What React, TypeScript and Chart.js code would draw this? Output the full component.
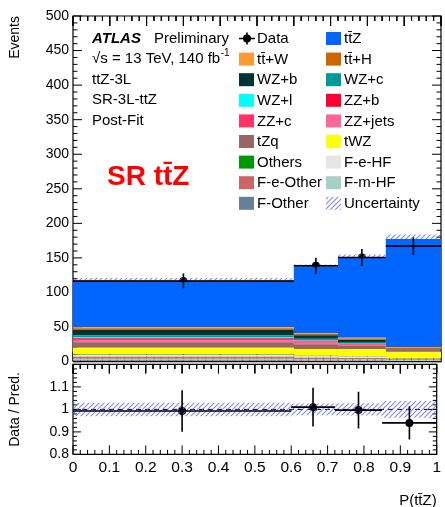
import React, { useEffect, useRef } from 'react';
import { Chart, registerables } from 'chart.js';
Chart.register(...registerables);

const FONT = '"Liberation Sans", Arial, Helvetica, sans-serif';
Chart.defaults.font.family = FONT;
Chart.defaults.color = '#000';

// ---------- data ----------
const binEdges = [0, 0.6, 0.72, 0.85, 1.0];
const binCenters = [0.3, 0.66, 0.785, 0.925];

// sample yields per bin (legend order)
const ttZ = [67.7, 95.6, 116.4, 156.4];
const ttW = [1.5, 1.2, 1.0, 1.5];
const ttH = [2.7, 2.2, 2.0, 2.6];
const WZb = [7.5, 5.0, 4.5, 1.0];
const WZc = [3.0, 2.2, 1.2, 0.3];
const WZl = [1.0, 0.8, 0.5, 0.1];
const ZZb = [1.2, 1.0, 0.6, 0.1];
const ZZc = [2.0, 1.6, 0.9, 0.2];
const ZZjets = [3.0, 2.2, 1.2, 0.3];
const tZq = [8.0, 7.0, 5.0, 1.2];
const tWZ = [9.6, 9.6, 9.7, 9.0];
const Others = [0.8, 0.8, 0.8, 0.5];
const FeHF = [2.5, 2.2, 2.0, 1.0];
const FeOther = [3.0, 2.4, 2.2, 1.3];
const FmHF = [2.0, 1.6, 1.5, 1.0];
const FOther = [2.0, 1.6, 1.5, 1.0];

const sampleLabels = ['tt\u0304Z', 'tt\u0304+W', 'tt\u0304+H', 'WZ+b', 'WZ+c', 'WZ+l', 'ZZ+b', 'ZZ+c', 'ZZ+jets', 'tZq', 'tWZ', 'Others', 'F-e-HF', 'F-e-Other', 'F-m-HF', 'F-Other'];
const sampleYields = [ttZ, ttW, ttH, WZb, WZc, WZl, ZZb, ZZc, ZZjets, tZq, tWZ, Others, FeHF, FeOther, FmHF, FOther];
const sampleColors = ['#0066ff', '#ff9933', '#cc6600', '#003333', '#009999', '#00ffff', '#ff0033', '#ff3366', '#ff6699', '#996666', '#ffff00', '#009900', '#e6e6e6', '#cc6666', '#a8cfc4', '#668099'];

const dataValues = [116.5, 138.5, 150.5, 167.0];
const dataErrors = [10.8, 11.8, 12.3, 12.9];
const predUnc = [3.5, 3.5, 4.0, 6.5];

const ratioValues = [0.993, 1.01, 0.997, 0.94];
const ratioErrors = [0.092, 0.086, 0.082, 0.074];
const ratioUnc = [0.030, 0.026, 0.027, 0.037];

const infoLines = ['ttZ-3L', 'SR-3L-ttZ', 'Post-Fit'];
const regionLabel = 'SR tt\u0304Z';
const xTitle = 'P(tt\u0304Z)';

// ---------- layout / style constants ----------
const W = 445;
const MAIN_H = 374;
const RATIO_H = 153;
const AREA_LEFT = 73;
const MAIN_BOTTOM = 364;
const RATIO_AREA_H = 90;

function stepPoints(vals: number[]) {
  const pts = vals.map((v, i) => ({ x: binEdges[i], y: v }));
  pts.push({ x: binEdges[binEdges.length - 1], y: vals[vals.length - 1] });
  return pts;
}

// frame outline, in axis units
function framePoints(yMin: number, yMax: number) {
  return [{ x: 0, y: yMin }, { x: 1, y: yMin }, { x: 1, y: yMax }, { x: 0, y: yMax }, { x: 0, y: yMin }];
}

// inward tick marks, in axis units, separated by gaps
function tickPoints(yMin: number, yMax: number, yMinorStep: number, every: number, xMajLen: number, xMinLen: number, yMajLen: number, yMinLen: number) {
  const pts: { x: number; y: number | null }[] = [];
  for (let k = 0; k <= 50; k++) {
    const v = k / 50;
    const len = k % 5 === 0 ? xMajLen : xMinLen;
    pts.push({ x: v, y: yMin }, { x: v, y: yMin + len }, { x: v, y: null });
    pts.push({ x: v, y: yMax }, { x: v, y: yMax - len }, { x: v, y: null });
  }
  const nY = Math.round((yMax - yMin) / yMinorStep);
  for (let k = 0; k <= nY; k++) {
    const v = yMin + ((yMax - yMin) * k) / nY;
    const len = k % every === 0 ? yMajLen : yMinLen;
    pts.push({ x: 0, y: v }, { x: len, y: v }, { x: len, y: null });
    pts.push({ x: 1, y: v }, { x: 1 - len, y: v }, { x: 1 - len, y: null });
  }
  return pts;
}

function makeHatch(): CanvasPattern | string {
  const c = document.createElement('canvas');
  c.width = 5; c.height = 5;
  const g = c.getContext('2d');
  if (!g) return 'rgba(100,100,230,0.5)';
  g.strokeStyle = 'rgba(95,95,225,0.75)';
  g.lineWidth = 1.1;
  g.beginPath();
  g.moveTo(0, 5); g.lineTo(5, 0);
  g.moveTo(-1, 1); g.lineTo(1, -1);
  g.moveTo(4, 6); g.lineTo(6, 4);
  g.stroke();
  return g.createPattern(c, 'repeat') || 'rgba(100,100,230,0.5)';
}

function drawDataBars(chart: any, vals: number[], errs: number[]) {
  const ctx = chart.ctx;
  const xs = chart.scales.x, ys = chart.scales.y;
  ctx.save();
  ctx.setLineDash([]);
  ctx.strokeStyle = '#000';
  ctx.lineWidth = 1.6;
  ctx.beginPath();
  vals.forEach((v, b) => {
    const x0 = xs.getPixelForValue(binEdges[b]);
    const x1 = xs.getPixelForValue(binEdges[b + 1]);
    const xc = xs.getPixelForValue(binCenters[b]);
    const y = ys.getPixelForValue(v);
    ctx.moveTo(x0, y); ctx.lineTo(x1, y);
    ctx.moveTo(xc, ys.getPixelForValue(v - errs[b]));
    ctx.lineTo(xc, ys.getPixelForValue(v + errs[b]));
  });
  ctx.stroke();
  ctx.restore();
}

function drawLegend(chart: any, hatch: CanvasPattern | string) {
  const ctx = chart.ctx;
  ctx.save();
  ctx.fillStyle = '#000';
  ctx.textBaseline = 'middle';
  ctx.textAlign = 'left';
  const rowY = (i: number) => 38.5 + 20.6 * i;
  ctx.font = `bold italic 15px ${FONT}`;
  ctx.fillText('ATLAS', 92, rowY(0));
  ctx.font = `15px ${FONT}`;
  ctx.fillText('Preliminary', 154, rowY(0));
  const s1 = '\u221As = 13 TeV, 140 fb';
  ctx.fillText(s1, 92, rowY(1));
  const w1 = ctx.measureText(s1).width;
  ctx.font = `10px ${FONT}`;
  ctx.fillText('-1', 92 + w1 + 0.5, rowY(1) - 6);
  ctx.font = `15px ${FONT}`;
  infoLines.forEach((t, i) => ctx.fillText(t, 92, rowY(2 + i)));
  ctx.font = `bold 28px ${FONT}`;
  ctx.fillStyle = '#ff0000';
  ctx.fillText(regionLabel, 107, 177);
  ctx.font = `15px ${FONT}`;
  const entries: { label: string; kind: string; color?: any }[] = [{ label: 'Data', kind: 'data' }];
  sampleLabels.forEach((lb, i) => entries.push({ label: lb, kind: 'box', color: sampleColors[i] }));
  entries.push({ label: 'Uncertainty', kind: 'hatch' });
  entries.forEach((e, i) => {
    const col = i % 2, row = Math.floor(i / 2);
    const bx = col === 0 ? 239 : 326;
    const tx = col === 0 ? 257 : 344;
    const y = rowY(row);
    if (e.kind === 'data') {
      ctx.strokeStyle = '#000';
      ctx.lineWidth = 1.6;
      ctx.beginPath();
      ctx.moveTo(bx, y); ctx.lineTo(bx + 16, y);
      ctx.moveTo(bx + 8, y - 6); ctx.lineTo(bx + 8, y + 6);
      ctx.stroke();
      ctx.fillStyle = '#000';
      ctx.beginPath();
      ctx.arc(bx + 8, y, 4, 0, Math.PI * 2);
      ctx.fill();
    } else if (e.kind === 'box') {
      ctx.fillStyle = e.color;
      ctx.fillRect(bx, y - 6.5, 15, 13);
    } else {
      ctx.fillStyle = hatch;
      ctx.fillRect(bx, y - 6.5, 15, 13);
    }
    ctx.fillStyle = '#000';
    ctx.fillText(e.label, tx, y + 0.5);
  });
  ctx.restore();
}

const tickFmt = (v: any) => String(Math.round(Number(v) * 10) / 10);

const lineSet = (label: string, data: any[], width: number) => ({
  label, data, borderColor: '#000', borderWidth: width, pointRadius: 0, fill: false, spanGaps: false, clip: false, tension: 0,
});

export default function App() {
  const mainRef = useRef<HTMLCanvasElement>(null);
  const ratioRef = useRef<HTMLCanvasElement>(null);
  const ratioWrapRef = useRef<HTMLDivElement>(null);

  useEffect(() => {
    document.documentElement.style.overflow = 'hidden';
    document.body.style.overflow = 'hidden';
    const hatch = makeHatch();

    const order = sampleYields.map((_, i) => sampleYields.length - 1 - i);
    const cum: number[][] = [];
    let run = [0, 0, 0, 0];
    order.forEach((si) => {
      run = run.map((r, b) => r + sampleYields[si][b]);
      cum.push(run.slice());
    });
    const total = run;

    const stackSets = order.map((si, k) => ({
      label: sampleLabels[si],
      data: stepPoints(cum[k]),
      stepped: true,
      fill: k === 0 ? 'origin' : '-1',
      backgroundColor: sampleColors[si],
      borderColor: 'rgba(0,0,0,0)',
      borderWidth: 0,
      pointRadius: 0,
    }));

    const mainDecor = {
      id: 'mainDecor',
      afterDraw(chart: any) {
        drawDataBars(chart, dataValues, dataErrors);
        drawLegend(chart, hatch);
      },
    };
    const ratioDecor = {
      id: 'ratioDecor',
      afterDraw(chart: any) {
        drawDataBars(chart, ratioValues, ratioErrors);
      },
    };

    const main = new Chart(mainRef.current as HTMLCanvasElement, {
      type: 'line',
      data: {
        datasets: [
          ...stackSets,
          { label: 'unc-lo', data: stepPoints(total.map((t, b) => t - predUnc[b])), stepped: true, fill: false, borderColor: 'rgba(0,0,0,0)', borderWidth: 0, pointRadius: 0 },
          { label: 'unc-hi', data: stepPoints(total.map((t, b) => t + predUnc[b])), stepped: true, fill: '-1', backgroundColor: hatch, borderColor: 'rgba(0,0,0,0)', borderWidth: 0, pointRadius: 0 },
          { label: 'Data', data: dataValues.map((v, b) => ({ x: binCenters[b], y: v })), showLine: false, pointRadius: 4, pointBackgroundColor: '#000', pointBorderWidth: 0 },
          lineSet('ticks', tickPoints(0, 500, 10, 5, 14.4, 7.2, 0.0245, 0.0122), 1),
          lineSet('frame', framePoints(0, 500), 1.2),
        ] as any,
      },
      options: {
        responsive: false,
        maintainAspectRatio: false,
        animation: false,
        events: [],
        layout: { padding: { top: 16, right: 4, left: 0, bottom: 10 } },
        plugins: { legend: { display: false }, tooltip: { enabled: false } },
        scales: {
          x: { type: 'linear', min: 0, max: 1, display: false },
          y: {
            min: 0, max: 500,
            ticks: { stepSize: 50, font: { size: 14 }, color: '#000', padding: 4 },
            grid: { display: false, drawTicks: false },
            border: { display: false },
            title: { display: true, text: 'Events', align: 'end', font: { size: 14 }, color: '#000', padding: { top: 7, bottom: 0 } },
            afterFit: (s: any) => { s.width = AREA_LEFT; },
          },
        },
      } as any,
      plugins: [mainDecor],
    });

    const ratio = new Chart(ratioRef.current as HTMLCanvasElement, {
      type: 'line',
      data: {
        datasets: [
          { label: 'r-lo', data: stepPoints(ratioUnc.map((u) => 1 - u)), stepped: true, fill: false, borderColor: 'rgba(0,0,0,0)', borderWidth: 0, pointRadius: 0 },
          { label: 'r-hi', data: stepPoints(ratioUnc.map((u) => 1 + u)), stepped: true, fill: '-1', backgroundColor: hatch, borderColor: 'rgba(0,0,0,0)', borderWidth: 0, pointRadius: 0 },
          { label: 'one', data: [{ x: 0, y: 1 }, { x: 1, y: 1 }], borderColor: '#000', borderWidth: 1, borderDash: [5, 4], pointRadius: 0, fill: false },
          { label: 'ratio', data: ratioValues.map((v, b) => ({ x: binCenters[b], y: v })), showLine: false, pointRadius: 4, pointBackgroundColor: '#000', pointBorderWidth: 0 },
          lineSet('ticks', tickPoints(0.8, 1.2, 0.02, 5, 0.04, 0.02, 0.0217, 0.0109), 1),
          lineSet('frame', framePoints(0.8, 1.2), 1.2),
        ] as any,
      },
      options: {
        responsive: false,
        maintainAspectRatio: false,
        animation: false,
        events: [],
        layout: { padding: { top: 0, right: 4, left: 0, bottom: 0 } },
        plugins: { legend: { display: false }, tooltip: { enabled: false } },
        scales: {
          x: {
            type: 'linear', min: 0, max: 1,
            ticks: { stepSize: 0.1, font: { size: 15.5 }, color: '#000', padding: 4, callback: tickFmt, maxRotation: 0, autoSkip: false },
            grid: { display: false, drawTicks: false },
            border: { display: false },
            title: { display: true, text: xTitle, align: 'end', font: { size: 15 }, color: '#000', padding: { top: 11, bottom: 2 } },
          },
          y: {
            min: 0.8, max: 1.2,
            ticks: { stepSize: 0.1, font: { size: 14 }, color: '#000', padding: 4, callback: (v: any) => (Math.abs(Number(v) - 1.2) < 1e-6 ? '' : tickFmt(v)) },
            grid: { display: false, drawTicks: false },
            border: { display: false },
            title: { display: true, text: 'Data / Pred.', align: 'center', font: { size: 14 }, color: '#000', padding: { top: 7, bottom: 0 } },
            afterFit: (s: any) => { s.width = AREA_LEFT; },
          },
        },
      } as any,
      plugins: [ratioDecor],
    });

    const ca = ratio.chartArea;
    const dh = RATIO_AREA_H - (ca.bottom - ca.top);
    if (Math.abs(dh) > 0.25) ratio.resize(W, RATIO_H + dh);
    if (ratioWrapRef.current) ratioWrapRef.current.style.top = `${MAIN_BOTTOM - ratio.chartArea.top}px`;

    return () => {
      main.destroy();
      ratio.destroy();
    };
  }, []);

  return (
    <div>
      <div style={{ position: 'absolute', left: 0, top: 0 }}>
        <canvas ref={mainRef} width={W} height={MAIN_H} style={{ display: 'block', width: W, height: MAIN_H }} />
      </div>
      <div ref={ratioWrapRef} style={{ position: 'absolute', left: 0, top: 356 }}>
        <canvas ref={ratioRef} width={W} height={RATIO_H} style={{ display: 'block', width: W, height: RATIO_H }} />
      </div>
    </div>
  );
}
